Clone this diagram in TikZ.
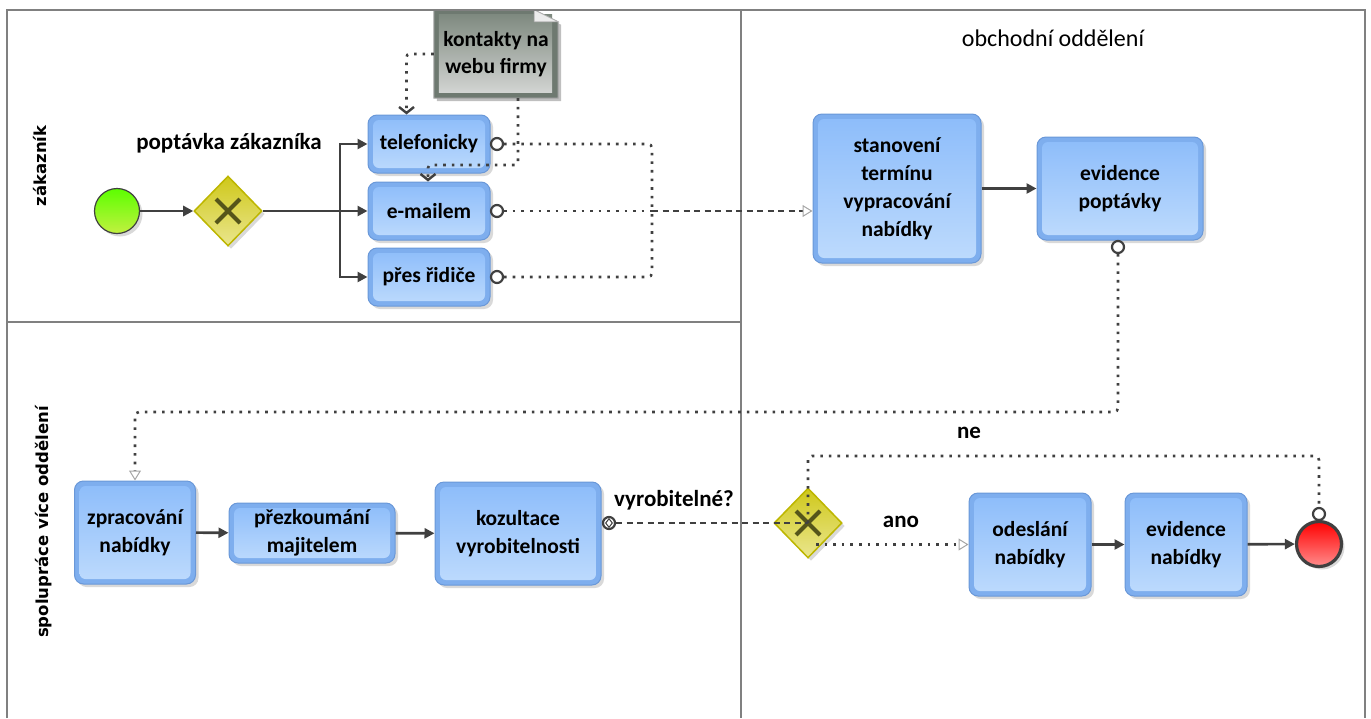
\documentclass[tikz,border=0pt]{standalone}
\usepackage{fontspec}
\setmainfont{Carlito}
\newfontfamily\lanefont{DejaVu Sans}
\usetikzlibrary{arrows.meta,shapes.geometric,shadows,backgrounds}
\definecolor{tBorder}{HTML}{6A98D8}
\definecolor{tRim}{HTML}{7EAEEE}
\definecolor{tTop}{HTML}{8CBCFA}
\definecolor{tBot}{HTML}{BEDBFD}
\definecolor{lineC}{HTML}{404040}
\definecolor{laneC}{HTML}{808080}
\definecolor{gwBorder}{HTML}{BDB600}
\definecolor{gwTop}{HTML}{CFC81A}
\definecolor{gwBot}{HTML}{EAE68E}
\definecolor{gwX}{HTML}{55551A}
\definecolor{dRim}{HTML}{6E7970}
\definecolor{dTop}{HTML}{7F8A80}
\definecolor{dBot}{HTML}{D2D4D2}
\definecolor{sTop}{HTML}{5CFF00}
\definecolor{sBot}{HTML}{C2F040}
\tikzset{
  task/.style={rectangle, rounded corners=9pt, draw=tBorder, line width=1pt, fill=tRim,
    align=center, font=\fontsize{21.5}{28}\selectfont\bfseries, inner sep=0pt,
    drop shadow={opacity=0.3,shadow xshift=3pt,shadow yshift=-3pt},
    path picture={\shade[top color=tTop,bottom color=tBot,rounded corners=6pt]
      ([shift={(5pt,-5pt)}]path picture bounding box.north west) rectangle
      ([shift={(-5pt,5pt)}]path picture bounding box.south east);}},
  gateway/.style={diamond, draw=gwBorder, line width=1.5pt, top color=gwTop, bottom color=gwBot,
    minimum width=68pt, minimum height=70pt, inner sep=0pt,
    drop shadow={opacity=0.3,shadow xshift=3pt,shadow yshift=-3pt}},
  port/.style={circle, draw=lineC, line width=2.2pt, fill=white, minimum size=12pt, inner sep=0pt},
  seqflow/.style={draw=lineC, line width=2.6pt, -{Triangle[width=10pt,length=10pt]}},
  msgflow/.style={draw=lineC, line width=2.6pt, dash pattern=on 2.6pt off 6pt, rounded corners=4pt},
  dashflow/.style={draw=lineC, line width=2.6pt, dash pattern=on 6pt off 4.5pt},
  openarr/.style={-{Triangle[open,width=12pt,length=10pt,line width=1pt,color=gray!70,fill=white]}},
  assoc/.style={draw=lineC, line width=2.6pt, dash pattern=on 2.6pt off 6pt,
    -{Straight Barb[width=15pt,length=6pt,line width=2.4pt]}},
  lbl/.style={font=\fontsize{23}{27}\selectfont\bfseries, inner sep=0pt},
  lanelbl/.style={font=\lanefont\fontsize{16.5}{20}\selectfont\bfseries, rotate=90, inner sep=0pt},
  lane/.style={draw=laneC, line width=1.8pt},
}
\begin{document}
\begin{tikzpicture}[x=1pt,y=-1pt]
\useasboundingbox (0,0) rectangle (1371,718);
% lanes
\draw[lane] (7,718) -- (7,10) -- (1365,10) -- (1365,718);
\draw[lane] (741,10) -- (741,718);
\draw[lane] (7,322) -- (741,322);
\node[lanelbl] (l1) at (40,166) {zákazník};
\node[lanelbl] (l2) at (44,522) {spolupráce více oddělení};
\node[font=\fontsize{24}{28}\selectfont, inner sep=0pt] (l3) at (1053,38) {obchodní oddělení};

% events and gateways
\node[circle, draw=lineC, line width=1.2pt, top color=sTop, bottom color=sBot,
  minimum size=45pt, inner sep=0pt, drop shadow={opacity=0.3,shadow xshift=3pt,shadow yshift=-3pt}] (st) at (117,211) {};
\node[gateway] (g1) at (228,211) {};
\draw[gwX, line width=4pt] (g1.center) +(-12,-12) -- +(12,12) (g1.center) +(-12,12) -- +(12,-12);
\node[lbl] (pz) at (229,143) {poptávka zákazníka};

% data object
\node[font=\fontsize{21.5}{27}\selectfont\bfseries, align=center, minimum width=124pt, minimum height=88pt, inner sep=0pt] (data) at (496,54) {kontakty na\\webu firmy};
\begin{scope}[on background layer]
\fill[black, opacity=0.25] ([shift={(3pt,-3pt)}]data.north west) -- ([shift={(-21pt,-3pt)}]data.north east) -- ([shift={(3pt,-15pt)}]data.north east) -- ([shift={(3pt,-3pt)}]data.south east) -- ([shift={(3pt,-3pt)}]data.south west) -- cycle;
\filldraw[fill=dRim, draw=gray!70, line width=1pt] (data.north west) -- ([xshift=-24pt]data.north east) -- ([yshift=-12pt]data.north east) -- (data.south east) -- (data.south west) -- cycle;
\shade[top color=dTop, bottom color=dBot] ([shift={(5pt,-5pt)}]data.north west) rectangle ([shift={(-6pt,6pt)}]data.south east);
\filldraw[fill=gray!15, draw=gray!60, line width=0.8pt] ([xshift=-24pt]data.north east) -- ([xshift=-24pt,yshift=-12pt]data.north east) -- ([yshift=-12pt]data.north east) -- cycle;
\end{scope}

% tasks
\node[task, minimum width=122pt, minimum height=58pt] (tel) at (429,144) {telefonicky};
\node[task, minimum width=122pt, minimum height=58pt] (em) at (429,211) {e-mailem};
\node[task, minimum width=122pt, minimum height=58pt] (pr) at (429,277) {přes řidiče};
\node[task, minimum width=168pt, minimum height=149pt] (stan) at (897,188.5) {stanovení\\termínu\\vypracování\\nabídky};
\node[task, minimum width=166pt, minimum height=103pt] (ep) at (1120,188.5) {evidence\\poptávky};
\node[task, minimum width=121pt, minimum height=103pt] (zp) at (135,532.5) {zpracování\\nabídky};
\node[task, minimum width=166pt, minimum height=60pt] (pm) at (312,533) {přezkoumání\\majitelem};
\node[task, minimum width=166pt, minimum height=103pt] (kz) at (518,533.5) {kozultace\\vyrobitelnosti};
\node[task, minimum width=122pt, minimum height=103pt] (od) at (1030,544.5) {odeslání\\nabídky};
\node[task, minimum width=122pt, minimum height=103pt] (en) at (1186,544.5) {evidence\\nabídky};

\node[gateway] (g2) at (808,523) {};
\draw[gwX, line width=4pt] (g2.center) +(-12,-12) -- +(12,12) (g2.center) +(-12,12) -- +(12,-12);
\node[circle, draw=lineC, line width=3.2pt, top color=red, bottom color=red!45,
  minimum size=45pt, inner sep=0pt, drop shadow={opacity=0.3,shadow xshift=3pt,shadow yshift=-3pt}] (end) at (1319,544) {};

% ports
\node[port] (ptel) at (497,144) {};
\node[port] (pem) at (497,211) {};
\node[port] (ppr) at (497,277) {};
\node[port] (pep) at (1118,247) {};
\node[port] (pkz) at (609,523) {};
\node[diamond, draw=lineC, line width=1pt, fill=white, minimum width=7pt, minimum height=9pt, inner sep=0pt] (pkzd) at (609,523) {};
\node[port] (pend) at (1319,514) {};

% labels
\node[lbl] (vy) at (674,500) {vyrobitelné?};
\node[lbl] (ano) at (901,522) {ano};
\node[lbl] (ne) at (969,433) {ne};

% sequence flows
\coordinate (sp) at (340,211);
\draw[seqflow] (st) -- (g1);
\draw[seqflow] (g1.east) -- (em.west);
\draw[seqflow] (sp) |- (tel.west);
\draw[seqflow] (sp) |- (pr.west);
\draw[seqflow] (stan.east) -- (ep.west);
\draw[seqflow] (zp) -- (pm);
\draw[seqflow] (pm) -- (kz);
\draw[seqflow] (od) -- (en);
\draw[seqflow] (en) -- (end);

% message flows
\coordinate (j1) at (652,211);
\draw[msgflow] (ptel.east) -| (j1);
\draw[msgflow] (ppr.east) -| (j1);
\draw[msgflow] (pem.east) -- (j1);
\draw[dashflow, openarr] (j1) -- (stan.west |- pem.east);
\coordinate (c1) at (135,412);
\draw[msgflow, openarr] (pep.south) |- (c1) -- (zp.north);
\coordinate (c2) at (1319,456);
\draw[msgflow] (g2.center) |- (c2) -- (pend.north);
\draw[msgflow, openarr] ([xshift=8pt]g2.center |- od.west) -- (od.west);
\draw[dashflow] (pkz.east) -- (g2.center);

% associations
\draw[assoc, rounded corners=3pt] (data.west) -| ([xshift=39pt]tel.north west);
\coordinate (c3) at (428,165);
\draw[assoc, rounded corners=3pt] ([xshift=22pt]data.south) |- (c3) -- ([xshift=-1pt]em.north);
\end{tikzpicture}
\end{document}
